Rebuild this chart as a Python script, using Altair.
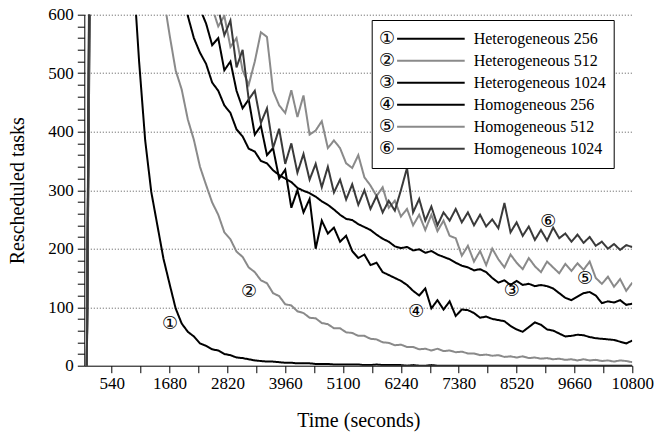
import altair as alt
import pandas as pd

series_names = ["Heterogeneous 256", "Heterogeneous 512", "Heterogeneous 1024",
                "Homogeneous 256", "Homogeneous 512", "Homogeneous 1024"]
tags = ["①", "②", "③", "④", "⑤", "⑥"]
line_colors = ["#000000", "#8a8a8a", "#000000", "#000000", "#8a8a8a", "#3a3a3a"]

# sampling times (seconds)
time_s = [50] + list(range(120, 10801, 120))

het_256 = [0, 900, 1400, 1300, 1200, 1100, 1000, 900, 680, 520,
           385, 297, 240, 183, 140, 98, 72, 58, 50, 38,
           34, 28, 26, 20, 18, 14, 13, 11, 9, 8,
           7, 7, 6, 5, 5, 4, 4, 4, 3, 3,
           3, 2, 2, 2, 2, 2, 1, 1, 2, 1,
           1, 1, 1, 0, 1, 0, 0, 1, 0, 0,
           0, 0, 0, 0, 0, 0, 0, 0, 0, 0,
           0, 0, 0, 0, 0, 0, 0, 0, 0, 0,
           0, 0, 0, 0, 0, 0, 0, 0, 0, 0, 0]
het_512 = [0, 800, 1700, 1600, 1500, 1400, 1300, 1200, 1050, 900,
           800, 740, 690, 632, 566, 505, 472, 421, 386, 340,
           309, 279, 258, 228, 216, 195, 186, 168, 160, 146,
           141, 124, 119, 105, 103, 93, 90, 82, 81, 73,
           71, 64, 64, 57, 56, 51, 51, 46, 45, 40,
           39, 35, 36, 32, 32, 28, 29, 26, 29, 25,
           26, 23, 24, 21, 21, 18, 19, 17, 18, 15,
           16, 14, 16, 13, 14, 12, 13, 11, 12, 10,
           11, 9, 11, 9, 10, 8, 9, 7, 9, 8, 6]
het_1024 = [0, 1000, 2100, 2000, 1900, 1800, 1700, 1600, 1500, 1400,
            1300, 1200, 1100, 1000, 880, 780, 680, 598, 560, 535,
            516, 484, 470, 445, 432, 404, 392, 371, 366, 350,
            346, 334, 326, 320, 314, 304, 299, 295, 289, 281,
            275, 267, 258, 251, 249, 242, 237, 232, 224, 217,
            212, 204, 201, 203, 197, 199, 193, 196, 190, 186,
            182, 176, 171, 168, 163, 165, 160, 150, 142, 146,
            138, 145, 138, 140, 136, 138, 136, 132, 124, 116,
            112, 118, 124, 126, 120, 107, 110, 108, 112, 104, 106]
hom_256 = [0, 750, 1250, 1200, 1150, 1100, 1050, 1000, 950, 900,
           860, 820, 790, 760, 730, 700, 680, 655, 630, 610,
           585, 548, 560, 505, 520, 470, 440, 455, 395, 410,
           360, 372, 320, 335, 270, 300, 262, 285, 200, 248,
           226, 236, 212, 222, 196, 184, 190, 172, 176, 160,
           155, 150, 145, 138, 128, 120, 132, 98, 112, 96,
           110, 85, 96, 95, 90, 82, 84, 80, 78, 76,
           68, 62, 58, 66, 74, 70, 62, 60, 55, 50,
           51, 53, 52, 49, 47, 46, 45, 44, 41, 38, 43]
hom_512 = [0, 850, 1650, 1600, 1550, 1500, 1450, 1400, 1350, 1300,
           1250, 1200, 1150, 1100, 1000, 900, 820, 760, 700, 660,
           640, 612, 580, 598, 545, 560, 505, 480, 520, 570,
           562, 470, 445, 432, 471, 425, 462, 395, 402, 418,
           372, 385, 372, 346, 338, 360, 322, 308, 290, 305,
           270, 282, 255, 268, 240, 258, 232, 258, 230, 248,
           222, 218, 188, 205, 178, 196, 172, 200, 182, 168,
           190, 176, 165, 184, 170, 160, 178, 168, 158, 174,
           162, 175, 164, 178, 150, 140, 152, 135, 148, 128, 142]
hom_1024 = [0, 950, 1850, 1800, 1750, 1700, 1650, 1600, 1500, 1400,
            1300, 1200, 1100, 1000, 920, 850, 790, 740, 700, 660,
            640, 620, 610, 565, 590, 510, 540, 455, 470, 415,
            440, 372, 405, 345, 380, 330, 362, 318, 345, 305,
            340, 296, 318, 284, 310, 275, 300, 268, 290, 262,
            282, 265, 300, 338, 262, 285, 248, 272, 240, 262,
            248, 268, 245, 262, 240, 258, 238, 250, 235, 278,
            228, 245, 222, 238, 215, 232, 214, 236, 218, 226,
            212, 224, 210, 220, 205, 212, 200, 208, 198, 206, 203]

# circled-number annotations placed beside the curves
label_time = [1689, 3246, 8423, 6543, 9868, 9145]
label_tasks = [71, 126, 128, 92, 148, 246]

all_series = [het_256, het_512, het_1024, hom_256, hom_512, hom_1024]
rows = []
for name, tag, vals in zip(series_names, tags, all_series):
    for t, v in zip(time_s, vals):
        rows.append({"series": name, "tag": tag, "time": t, "tasks": v})
df = pd.DataFrame(rows)
labels_df = pd.DataFrame({"time": label_time, "tasks": label_tasks, "tag": tags})

SERIF = "Liberation Serif"
x_ticks = list(range(540, 10801, 570))
y_ticks = list(range(0, 601, 20))

x_enc = alt.X("time:Q", scale=alt.Scale(domain=[0, 10800], nice=False, zero=False),
              axis=alt.Axis(values=x_ticks, format="d",
                            labelExpr="(datum.value - 540) % 1140 === 0 ? datum.label : ''",
                            grid=False, tickSize=7, tickColor="black", domainColor="black",
                            labelFont=SERIF, labelFontSize=17, labelColor="black", labelPadding=3,
                            labelFlush=False, labelOverlap=False,
                            title="Time (seconds)", titleFont=SERIF, titleFontSize=20,
                            titleFontWeight="normal", titleColor="black", titlePadding=19))
y_enc = alt.Y("tasks:Q", scale=alt.Scale(domain=[0, 600], nice=False),
              axis=alt.Axis(values=y_ticks,
                            labelExpr="datum.value % 100 === 0 ? datum.label : ''",
                            grid=True, gridDash=[1, 2], gridColor="#555555", gridWidth=1,
                            gridOpacity={"condition": {"test": "datum.value % 100 === 0 && datum.value > 0", "value": 1}, "value": 0},
                            tickSize=7, tickColor="black", domainColor="black",
                            labelFont=SERIF, labelFontSize=17, labelColor="black", labelPadding=4,
                            labelFlush=False, labelOverlap=False,
                            title="Rescheduled tasks", titleFont=SERIF, titleFontSize=20,
                            titleFontWeight="normal", titleColor="black", titlePadding=20))

lines = alt.Chart(df).mark_line(strokeWidth=2, clip=True).encode(
    x=x_enc,
    y=y_enc,
    color=alt.Color("series:N",
                    scale=alt.Scale(domain=series_names, range=line_colors),
                    legend=alt.Legend(orient="none", legendX=287.4, legendY=5.3, direction="vertical",
                                      title=None, symbolType="M -0.61 0 L 1 0", symbolSize=7056,
                                      symbolStrokeWidth=2, clipHeight=21.5, rowPadding=0,
                                      padding=8, strokeColor="black", fillColor="white", cornerRadius=0,
                                      labelFont=SERIF, labelFontSize=16, labelColor="black",
                                      labelOffset=8, labelLimit=400)),
    strokeDash=alt.StrokeDash("tag:N",
                              scale=alt.Scale(domain=tags, range=[[1, 0]] * 6),
                              legend=alt.Legend(orient="none", legendX=284.7, legendY=13.3, direction="vertical",
                                                title=None, symbolOpacity=0, symbolSize=0,
                                                symbolStrokeWidth=0, clipHeight=21.5, rowPadding=0,
                                                padding=0, labelFont="DejaVu Sans", labelFontSize=18,
                                                labelColor="black", labelAlign="center", labelOffset=0)),
)

labels = alt.Chart(labels_df).mark_text(font="DejaVu Sans", fontSize=18, color="black").encode(
    x=x_enc, y=y_enc, text="tag:N")

chart = alt.layer(lines, labels).properties(
    width=548, height=351,
    padding={"left": 84.3, "top": 14.7, "right": 21.7, "bottom": 66.3},
    autosize=alt.AutoSizeParams(type="none"),
    background="white",
).configure_view(stroke=None)

chart.save("out.html", embed_options={"renderer": "svg", "actions": False})
